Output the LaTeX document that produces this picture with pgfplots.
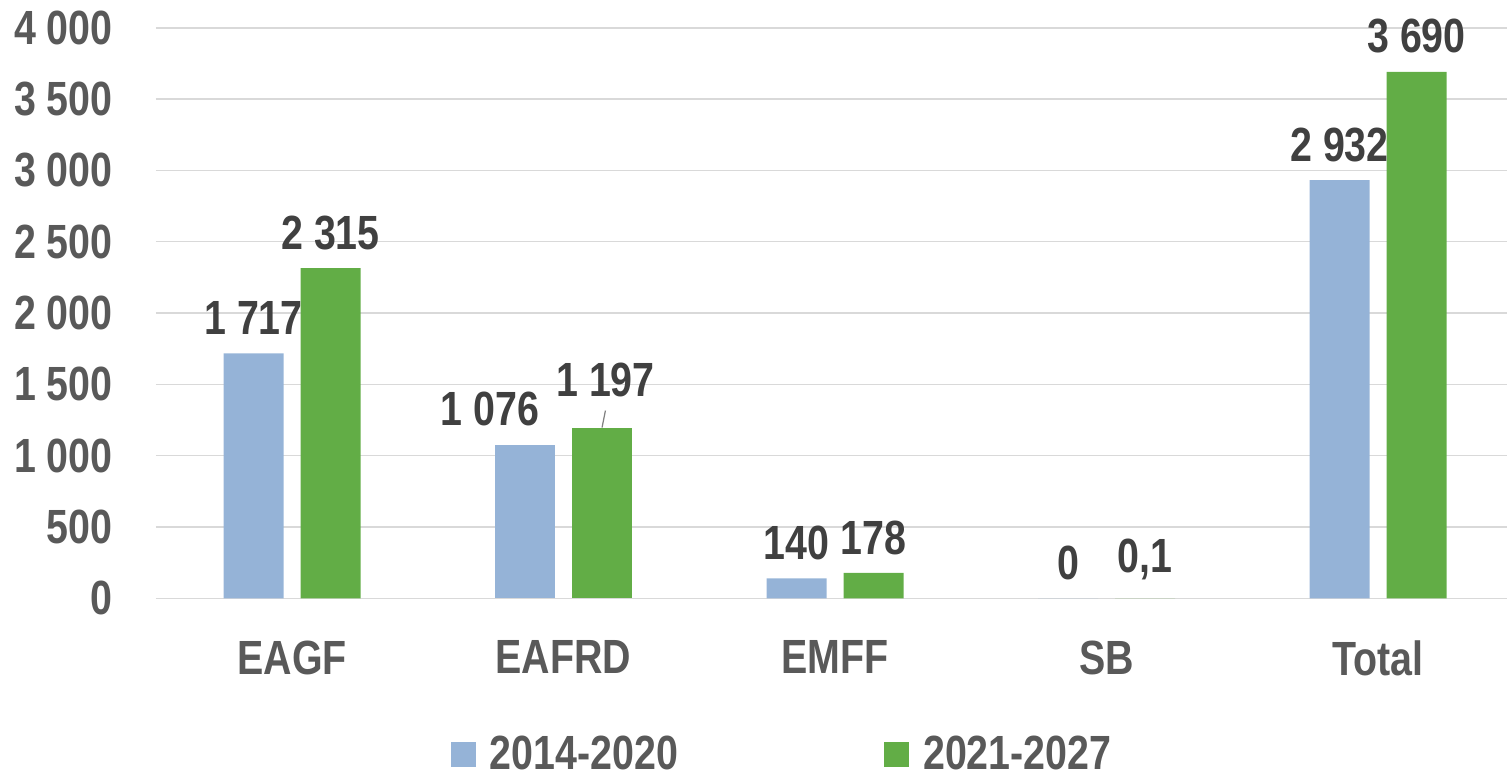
\documentclass[border=0pt]{standalone}
\usepackage{fontspec}
\setmainfont{Liberation Sans}[FakeStretch=0.82]
\usepackage{pgfplots}
\pgfplotsset{compat=1.18}
\definecolor{BlueOld}{HTML}{95B3D7}
\definecolor{GreenNew}{HTML}{62AD46}
\definecolor{TickGray}{HTML}{595959}
\definecolor{LabGray}{HTML}{404040}
\definecolor{GridGray}{HTML}{D9D9D9}

\newcommand{\chartfont}{\fontsize{24bp}{28bp}\selectfont\bfseries}

\begin{document}
\begin{tikzpicture}
\useasboundingbox (-78bp,-89.85bp) rectangle (675.5bp,299.15bp);
\begin{axis}[
    at={(0,0)}, anchor=south west,
    scale only axis, width=675.5bp, height=285.3bp,
    ybar, bar width=30bp,
    xmin=-0.501, xmax=4.475, ymin=0, ymax=4000,
    xtick={0,...,4}, xticklabels={EAGF,EAFRD,EMFF,SB,Total},
    ytick={0,500,...,4000},
    major tick length=0,
    axis line style={draw=none},
    ymajorgrids, grid style={draw=GridGray, line width=0.8bp},
    tick label style={font=\chartfont, text=TickGray, inner sep=0pt},
    yticklabel style={anchor=east, xshift=-21.5bp},
    xticklabel style={anchor=north, yshift=-21bp},
    /pgf/number format/.cd, use comma, 1000 sep={\ }, assume math mode=true,
    /pgfplots/.cd,
    nodes near coords,
    every node near coord/.append style={font=\chartfont, text=LabGray,
        inner sep=0pt, anchor=south, yshift=9bp},
    legend style={at={(0.4642,-0.2735)}, anchor=center, draw=none, inner sep=0pt,
        font=\chartfont, text=TickGray, legend columns=2,
        /tikz/every odd column/.append style={column sep=5bp},
        /tikz/column 2/.style={column sep=101bp}},
    legend image code/.code={\fill[#1] (0bp,-6.25bp) rectangle (12.5bp,6.25bp);},
]
% 2014-2020
\addplot[fill=BlueOld, draw=none, bar shift=-19.25bp]
    coordinates {(0,1717) (2,140) (3,0) (4,2932)};
% 2021-2027
\addplot[fill=GreenNew, draw=none, bar shift=19.25bp]
    coordinates {(0,2315) (2,178) (3,0.1) (4,3690)};
% EAFRD bars, labels moved as in the source
\addplot[fill=BlueOld, draw=none, bar shift=-19.25bp, forget plot,
    every node near coord/.append style={xshift=-17.5bp}]
    coordinates {(1,1076)};
\addplot[fill=GreenNew, draw=none, bar shift=19.25bp, forget plot,
    every node near coord/.append style={xshift=1.75bp, yshift=6bp}]
    coordinates {(1,1197)};
\draw[gray, line width=0.6bp] (axis cs:1,1197) ++(19.25bp,0bp) -- ++(1.7bp,8.5bp);
\legend{2014-2020, 2021-2027}
\end{axis}
\end{tikzpicture}
\end{document}
